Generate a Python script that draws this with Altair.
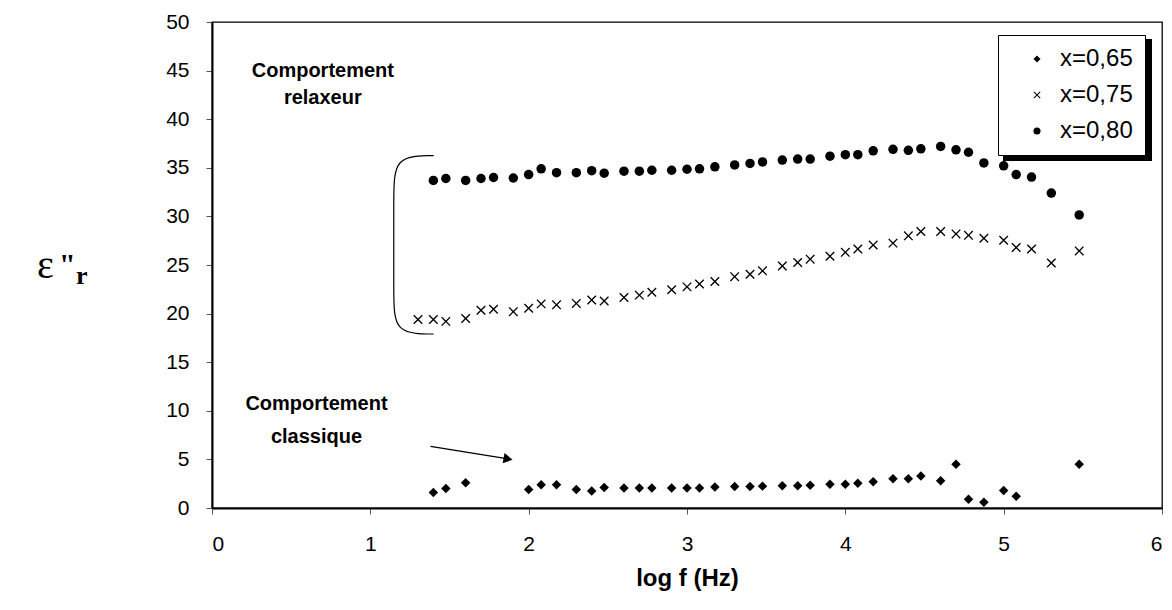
import altair as alt
import pandas as pd

# ---- data ----
SERIES = ["x=0,65", "x=0,75", "x=0,80"]

x65 = [1.398, 1.477, 1.602,
       2.0, 2.079, 2.176, 2.301, 2.398, 2.477, 2.602, 2.699, 2.778, 2.903, 3.0, 3.079, 3.176, 3.301, 3.398, 3.477,
       3.602, 3.699, 3.778, 3.903, 4.0, 4.079, 4.176, 4.301, 4.398, 4.477, 4.602, 4.699, 4.778, 4.875, 5.0, 5.079,
       5.477]
y65 = [1.6, 2.0, 2.6,
       1.9, 2.4, 2.4, 1.9, 1.75, 2.1, 2.05, 2.05, 2.05, 2.05, 2.05, 2.05, 2.15, 2.2, 2.2, 2.25,
       2.3, 2.3, 2.35, 2.45, 2.45, 2.55, 2.7, 3.0, 3.0, 3.3, 2.8, 4.5, 0.9, 0.6, 1.8, 1.2,
       4.5]

x75 = [1.301, 1.398, 1.477, 1.602, 1.699, 1.778, 1.903, 2.0, 2.079, 2.176, 2.301, 2.398, 2.477, 2.602, 2.699,
       2.778, 2.903, 3.0, 3.079, 3.176, 3.301, 3.398, 3.477,
       3.602, 3.699, 3.778, 3.903, 4.0, 4.079, 4.176, 4.301, 4.398, 4.477, 4.602, 4.699, 4.778, 4.875, 5.0, 5.079,
       5.176, 5.301, 5.477]
y75 = [19.4, 19.4, 19.2, 19.5, 20.35, 20.45, 20.2, 20.55, 21.0, 20.9, 21.05, 21.4, 21.3, 21.65, 21.9,
       22.2, 22.45, 22.75, 23.05, 23.3, 23.8, 24.05, 24.4,
       24.9, 25.25, 25.6, 25.9, 26.3, 26.65, 27.05, 27.25, 28.0, 28.45, 28.45, 28.2, 28.05, 27.75, 27.55, 26.8,
       26.65, 25.2, 26.45]

x80 = [1.398, 1.477, 1.602, 1.699, 1.778, 1.903, 2.0, 2.079, 2.176, 2.301, 2.398, 2.477, 2.602, 2.699,
       2.778, 2.903, 3.0, 3.079, 3.176, 3.301, 3.398, 3.477,
       3.602, 3.699, 3.778, 3.903, 4.0, 4.079, 4.176, 4.301, 4.398, 4.477, 4.602, 4.699, 4.778, 4.875, 5.0, 5.079,
       5.176, 5.301, 5.477]
y80 = [33.7, 33.9, 33.7, 33.9, 34.0, 33.95, 34.3, 34.9, 34.5, 34.5, 34.7, 34.45, 34.65, 34.65,
       34.75, 34.75, 34.85, 34.9, 35.1, 35.3, 35.45, 35.6,
       35.8, 35.9, 35.9, 36.2, 36.35, 36.35, 36.75, 36.9, 36.8, 36.95, 37.2, 36.85, 36.6, 35.5, 35.2, 34.3,
       34.05, 32.4, 30.15]

X_TICKS = [0, 1, 2, 3, 4, 5, 6]
Y_TICKS = [0, 5, 10, 15, 20, 25, 30, 35, 40, 45, 50]

# annotation texts (data coordinates)
ann_text = ["Comportement", "relaxeur", "Comportement", "classique"]
ann_x = [0.70, 0.70, 0.66, 0.66]
ann_y = [45.0, 42.2, 10.7, 7.3]

# arrow (data coordinates)
arrow_x, arrow_y, arrow_x2, arrow_y2 = 1.38, 6.35, 1.87, 5.05

# bracket control points (data coordinates)
br_x = [1.40, 1.148, 1.148, 1.148, 1.148, 1.40]
br_y = [36.25, 36.25, 32.0, 22.0, 17.9, 17.9]

# ---- tables ----
rows = []
for s, xs, ys in [(SERIES[0], x65, y65), (SERIES[1], x75, y75), (SERIES[2], x80, y80)]:
    for a, b in zip(xs, ys):
        rows.append({"series": s, "logf": a, "eps": b})
df = pd.DataFrame(rows)

ann_df = pd.DataFrame({"t": ann_text, "x": ann_x, "y": ann_y})
arrow_df = pd.DataFrame({"x": [arrow_x], "y": [arrow_y], "x2": [arrow_x2], "y2": [arrow_y2]})
br_df = pd.DataFrame({"x": br_x, "y": br_y, "i": list(range(len(br_x)))})
one = pd.DataFrame({"a": [0]})

FONT = "Liberation Sans"
X_SHAPE = "M-1,-0.8L-0.8,-1L0,-0.2L0.8,-1L1,-0.8L0.2,0L1,0.8L0.8,1L0,0.2L-0.8,1L-1,0.8L-0.2,0Z"

xscale = alt.Scale(domain=[0, 6], nice=False, zero=False)
yscale = alt.Scale(domain=[0, 50], nice=False, zero=False)

X = alt.X("logf:Q", scale=xscale,
          axis=alt.Axis(values=X_TICKS, format="d", title="log f (Hz)", labelPadding=19, titlePadding=12,
                        titleFontSize=24, titleFontWeight="bold", titleFont=FONT))
Y = alt.Y("eps:Q", scale=yscale, axis=alt.Axis(values=Y_TICKS, format="d", title=None, labelPadding=17))

points = alt.Chart(df).mark_point(filled=True, fill="black", strokeWidth=0, opacity=1, size=90).encode(
    x=X, y=Y,
    shape=alt.Shape("series:N",
                    scale=alt.Scale(domain=SERIES, range=["diamond", X_SHAPE, "circle"]),
                    legend=alt.Legend(title=None, orient="none", legendX=786, legendY=13,
                                      strokeColor="black", fillColor="white", padding=12,
                                      labelFont=FONT, labelFontSize=24, labelColor="black",
                                      labelExpr="datum.label + '  '",
                                      symbolSize=50, symbolFillColor="black", symbolStrokeWidth=0,
                                      symbolOffset=15, rowPadding=12, labelOffset=11)),
)

shadow = alt.Chart(one).mark_rect(fill="black").encode(
    x=alt.value(791), x2=alt.value(940), y=alt.value(17), y2=alt.value(139))

ann = alt.Chart(ann_df).mark_text(font=FONT, fontSize=20, fontWeight="bold", color="black").encode(
    x=alt.X("x:Q", scale=xscale), y=alt.Y("y:Q", scale=yscale), text="t:N")

arrow_line = alt.Chart(arrow_df).mark_rule(color="black", strokeWidth=1.3).encode(
    x=alt.X("x:Q", scale=xscale), y=alt.Y("y:Q", scale=yscale), x2="x2:Q", y2="y2:Q")
arrow_head = alt.Chart(arrow_df).mark_point(shape="triangle-right", filled=True, fill="black", size=110,
                                            angle=10, opacity=1).encode(
    x=alt.X("x2:Q", scale=xscale), y=alt.Y("y2:Q", scale=yscale))

bracket = alt.Chart(br_df).mark_line(color="black", strokeWidth=1.2, interpolate="basis").encode(
    x=alt.X("x:Q", scale=xscale), y=alt.Y("y:Q", scale=yscale), order="i:Q")

eps_sym = alt.Chart(one).mark_text(font="Liberation Serif", fontSize=40, align="left", baseline="alphabetic",
                                   color="black").encode(
    x=alt.value(-175), y=alt.value(256), text=alt.value("ε"))
eps_q = alt.Chart(one).mark_text(font="Liberation Serif", fontSize=30, fontWeight="bold", align="left",
                                 baseline="alphabetic", color="black").encode(
    x=alt.value(-153), y=alt.value(252), text=alt.value('"'))
eps_r = alt.Chart(one).mark_text(font="Liberation Serif", fontSize=26, fontWeight="bold", align="left",
                                 baseline="alphabetic", color="black").encode(
    x=alt.value(-136), y=alt.value(262), text=alt.value("r"))

chart = alt.layer(shadow, bracket, arrow_line, arrow_head, ann, points, eps_sym, eps_q, eps_r).properties(
    width=950, height=486,
    autosize=alt.AutoSizeParams(type="none"),
    padding={"left": 204, "top": 14, "right": 2, "bottom": 90},
    background="white",
).configure_view(stroke="black", strokeWidth=1.3).configure_axis(
    grid=False, domainColor="black", domainWidth=2, tickColor="#555", tickSize=6,
    labelFont=FONT, labelFontSize=21, labelColor="black", titleColor="black",
)

chart.save("out.html", embed_options={"renderer": "svg", "actions": False})
